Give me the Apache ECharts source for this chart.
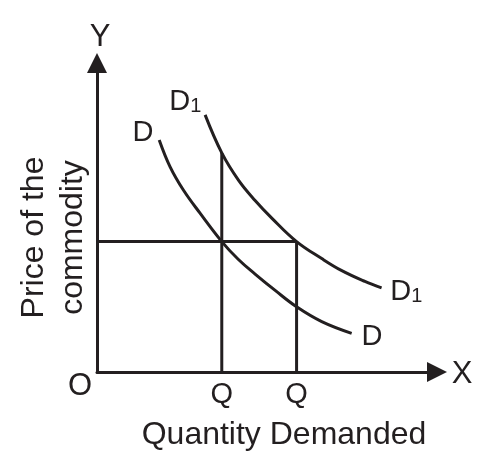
<!DOCTYPE html>
<html>
<head>
<meta charset="utf-8">
<script src="https://cdn.jsdelivr.net/npm/echarts@6/dist/echarts.min.js"></script>
<style>
  html, body { margin: 0; padding: 0; background: #fff; }
  #chart { width: 487px; height: 457px; }
</style>
</head>
<body>
<div id="chart"></div>
<script>
// demand curve D (quantity, price)
const dQty = [1.83, 2.15, 2.54, 3.03, 3.67, 4.16, 4.65, 5.24, 5.87, 6.61, 7.49];
const dPrice = [7.51, 6.64, 5.89, 5.14, 4.22, 3.64, 3.17, 2.64, 2.11, 1.63, 1.25];
// shifted demand curve D1
const d1Qty = [3.18, 3.67, 4.16, 4.65, 5.14, 5.87, 6.61, 7.20, 7.88, 8.37];
const d1Price = [8.32, 7.09, 6.21, 5.55, 4.98, 4.22, 3.67, 3.28, 2.93, 2.72];
// price level and the two quantities demanded at it
const priceLevel = 4.22;
const qValues = [3.67, 5.87];
const qTickLabels = ['Q', 'Q'];
const q1Top = 7.09; // where the Q line meets D1
// curve labels: [qty, price, text]
const curveLabels = [
  [1.35, 7.73, 'D'],
  [2.60, 8.74, 'D1'],
  [9.10, 2.59, 'D1'],
  [8.09, 1.13, 'D'],
];

const ink = '#231f20';
const font = 'Liberation Sans, Arial, sans-serif';

const chart = echarts.init(document.getElementById('chart'));

const zip = (xs, ys) => xs.map((x, i) => [x, ys[i]]);

const guideLine = data => ({
  type: 'line',
  data,
  symbol: 'none',
  silent: true,
  lineStyle: { color: ink, width: 3 },
});

const curve = (name, data) => ({
  name,
  type: 'line',
  data,
  smooth: 0.4,
  symbol: 'none',
  silent: true,
  lineStyle: { color: ink, width: 3 },
});

chart.setOption({
  animation: false,
  backgroundColor: '#fff',
  grid: {
    left: 97,
    right: 50,
    top: 63,
    bottom: 85,
  },
  xAxis: {
    type: 'value',
    min: 0,
    max: 10,
    name: 'Quantity Demanded',
    nameLocation: 'middle',
    nameGap: 47,
    nameTextStyle: {
      color: ink,
      fontSize: 32,
      fontFamily: font,
      padding: [0, 0, 0, 34],
    },
    splitLine: { show: false },
    axisTick: { show: false },
    axisLine: {
      lineStyle: { color: ink, width: 3 },
      symbol: ['none', 'triangle'],
      symbolSize: [20, 20],
    },
    axisLabel: {
      customValues: qValues,
      formatter(value) {
        const i = qValues.indexOf(value);
        return i >= 0 ? qTickLabels[i] : '';
      },
      color: ink,
      fontSize: 29,
      fontFamily: font,
      margin: 8,
    },
  },
  yAxis: {
    type: 'value',
    min: 0,
    max: 10,
    name: 'Price of the\ncommodity',
    nameLocation: 'middle',
    nameGap: 4,
    nameTextStyle: {
      color: ink,
      fontSize: 32,
      fontFamily: font,
      lineHeight: 39,
      padding: [0, 40, 0, 0],
    },
    splitLine: { show: false },
    axisTick: { show: false },
    axisLabel: { show: false },
    axisLine: {
      lineStyle: { color: ink, width: 3 },
      symbol: ['none', 'triangle'],
      symbolSize: [20, 20],
    },
  },
  graphic: [
    { type: 'text', x: 100, y: 37, style: { text: 'Y', fill: ink, fontSize: 31, fontFamily: font, align: 'center', verticalAlign: 'middle' } },
    { type: 'text', x: 462, y: 374, style: { text: 'X', fill: ink, fontSize: 31, fontFamily: font, align: 'center', verticalAlign: 'middle' } },
    { type: 'text', x: 80, y: 386, style: { text: 'O', fill: ink, fontSize: 31, fontFamily: font, align: 'center', verticalAlign: 'middle' } },
  ],
  series: [
    guideLine([[0, priceLevel], [qValues[1], priceLevel]]),
    guideLine([[qValues[0], 0], [qValues[0], q1Top]]),
    guideLine([[qValues[1], 0], [qValues[1], priceLevel]]),
    curve('D', zip(dQty, dPrice)),
    curve('D1', zip(d1Qty, d1Price)),
    {
      type: 'scatter',
      data: curveLabels.map(l => ({ value: [l[0], l[1]], text: l[2] })),
      symbolSize: 1,
      itemStyle: { color: 'rgba(0,0,0,0)', opacity: 1 },
      silent: true,
      clip: false,
      label: {
        show: true,
        position: 'inside',
        align: 'center',
        verticalAlign: 'middle',
        color: ink,
        textBorderWidth: 0,
        formatter(p) {
          const t = p.data.text;
          return t.length > 1 ? `{a|${t[0]}}{s|${t.slice(1)}}` : `{a|${t}}`;
        },
        rich: {
          a: { color: ink, fontSize: 29, fontFamily: font, lineHeight: 30, textBorderWidth: 0 },
          s: { color: ink, fontSize: 20, fontFamily: font, lineHeight: 10, verticalAlign: 'bottom', textBorderWidth: 0 },
        },
      },
    },
  ],
});
</script>
</body>
</html>
